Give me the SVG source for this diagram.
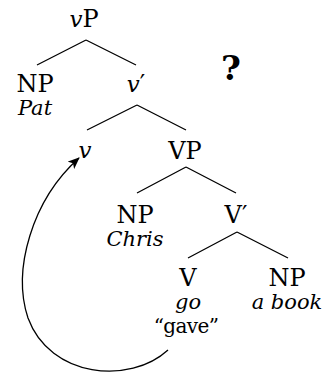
<svg xmlns="http://www.w3.org/2000/svg" width="336" height="376" viewBox="0 0 336 376">
<defs>
<style>
text{font-family:'DejaVu Serif',serif;font-size:24px;fill:#000;text-anchor:middle}
.it{font-style:italic;font-size:21px}
.vi{font-style:italic;font-size:23px}
.q{font-weight:bold;font-size:34px}
.g{font-size:20px;letter-spacing:-0.6px}
.e{stroke:#000;stroke-width:1.3;fill:none}
</style>
<marker id="ah" viewBox="0 0 12 10" refX="11" refY="5" markerWidth="12" markerHeight="10" markerUnits="userSpaceOnUse" orient="auto">
<path d="M0,0 L12,5 L0,10 L3,5 Z" fill="#000"/>
</marker>
</defs>
<g id="connectors">
<path class="e" d="M86,40 L37,65 M86,40 L136,65"/>
<path class="e" d="M137,105 L87,130 M137,105 L186,130"/>
<path class="e" d="M186,167 L137,193 M186,167 L236,193"/>
<path class="e" d="M237,232 L188,258 M237,232 L288,258"/>
<path class="e" d="M168,350 C130,385 50,378 28,318 C12,270 32,200 79,158" marker-end="url(#ah)"/>
</g>
<g id="vP"><text x="84" y="27"><tspan class="vi">v</tspan>P</text></g>
<g id="NP1"><text x="35" y="92">NP</text><text class="it" x="35" y="115">Pat</text></g>
<g id="vbar"><text x="136" y="92"><tspan class="vi">v</tspan>′</text></g>
<g id="question"><text class="q" x="231" y="80">?</text></g>
<g id="v"><text class="vi" x="85" y="158">v</text></g>
<g id="VP"><text x="185" y="159">VP</text></g>
<g id="NP2"><text x="135" y="223">NP</text><text class="it" x="135" y="246">Chris</text></g>
<g id="Vbar"><text x="236" y="223">V′</text></g>
<g id="V"><text x="188" y="286">V</text><text class="it" x="188" y="309">go</text><text class="g" x="186" y="333">“gave”</text></g>
<g id="NP3"><text x="287" y="286">NP</text><text class="it" x="287" y="309">a book</text></g>
</svg>
